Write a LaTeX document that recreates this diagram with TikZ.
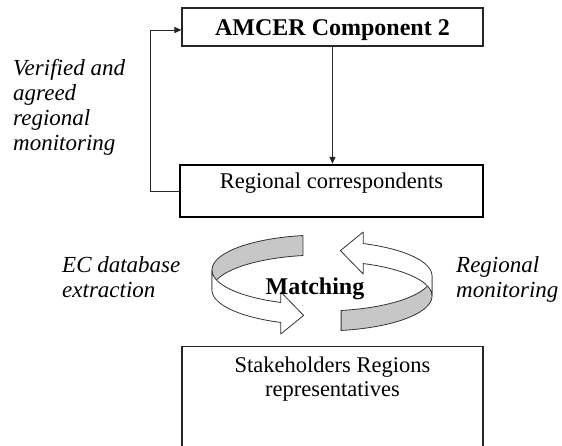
\documentclass[tikz,border=0pt]{standalone}
\usepackage{fontspec}
\setmainfont{Liberation Serif}
\usetikzlibrary{arrows.meta}
\newcommand{\ribbonarrow}{%
 \filldraw[band, fill=black!22] plot[domain=100:180, samples=40, variable=\t] ({322+110*cos(\t)},{270-35*sin(\t)}) -- plot[domain=180:100, samples=40, variable=\t] ({322+110*cos(\t)},{290-35*sin(\t)}) -- cycle;
 \filldraw[band, fill=white] plot[domain=180:248, samples=40, variable=\t] ({322+110*cos(\t)},{270-35*sin(\t)}) -- (280.8,292) -- (303.6,315.4) -- (280.8,334) -- plot[domain=248:180, samples=40, variable=\t] ({322+110*cos(\t)},{290-35*sin(\t)}) -- cycle;
}
\begin{document}
\begin{tikzpicture}[x=1pt,y=-1pt,
  boxthin/.style={draw=black!85, line width=1.1pt, minimum width=301pt, inner sep=0pt},
  boxthick/.style={draw=black, line width=2.4pt, inner sep=0pt},
  conn/.style={draw=black!85, line width=1pt, -{Triangle[length=7pt,width=6pt]}},
  band/.style={draw=black!80, line width=0.8pt, line join=round},
  boldtxt/.style={font=\fontsize{24}{28}\selectfont\bfseries},
  regtxt/.style={font=\fontsize{22.5}{24}\selectfont},
  italtxt/.style={font=\fontsize{23}{25}\selectfont\itshape, align=left, inner sep=0pt, anchor=north west},
]
\clip (0,0) rectangle (562,445);
\fill[white] (0,0) rectangle (562,445);

\node[boxthin, minimum height=38pt, boldtxt, text height=16pt, text depth=0pt] (amcer) at (332.5,27) {AMCER Component 2};
\node[boxthick, minimum width=303pt, minimum height=52pt, regtxt, text height=14pt, text depth=20pt] (rc) at (331.5,191) {Regional correspondents};
\node[boxthin, minimum height=120pt, anchor=north] (stake) at (332.5,346) {};
\node[regtxt, align=center, anchor=north, inner sep=0pt] (staketext) at (332.5,357) {Stakeholders Regions\\representatives};

\node[italtxt] (verified) at (13,59) {Verified and\\agreed\\regional\\monitoring};
\node[italtxt] (ecdb) at (62,256) {EC database\\extraction};
\node[italtxt] (regmon) at (456,256) {Regional\\monitoring};

\draw[conn] (amcer.south) -- (amcer.south |- rc.north);
\draw[conn] (rc.west) -- ++(-28,0) |- ([yshift=-3pt]amcer.west);

\ribbonarrow
\begin{scope}[rotate around={180:(322,283)}]
\ribbonarrow
\end{scope}

\node[boldtxt, anchor=base, inner sep=0pt] (match) at (315,294) {Matching};
\end{tikzpicture}
\end{document}
